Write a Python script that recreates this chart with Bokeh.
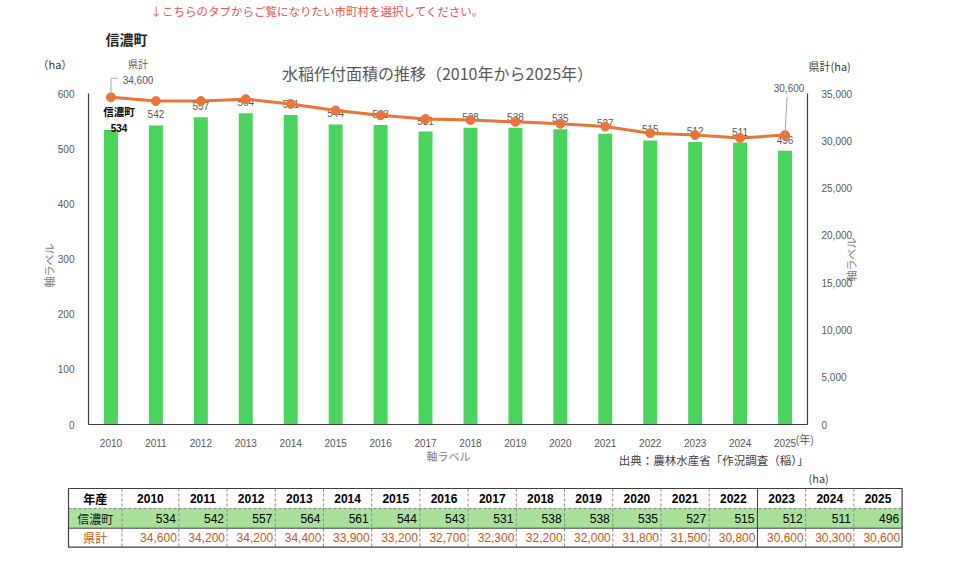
import math
from bokeh.plotting import figure
from bokeh.models import (Range1d, LinearAxis, FixedTicker, NumeralTickFormatter, Label)
from bokeh.embed import file_html
from bokeh.resources import INLINE
from bokeh.core.properties import value

# ---------------- data ----------------
years = list(range(2010, 2026))
year_labels = [str(y) for y in years]
town = [534, 542, 557, 564, 561, 544, 543, 531, 538, 538, 535, 527, 515, 512, 511, 496]
pref = [34600, 34200, 34200, 34400, 33900, 33200, 32700, 32300, 32200, 32000,
        31800, 31500, 30800, 30600, 30300, 30600]
left_ticks = [0, 100, 200, 300, 400, 500, 600]
right_ticks = [0, 5000, 10000, 15000, 20000, 25000, 30000, 35000]
town_name = "信濃町"
pref_name = "県計"

# ---------------- style ----------------
JP = "Noto Sans CJK JP"
NUM = "Liberation Sans"
BAR = "#4BD45D"
LINE = "#E8763A"
GRAY = "#595959"

W, H = 960, 568
FL, FR, FT, FB = 88, 807, 93, 424      # chart area in canvas pixels
X0, X1 = years[0] - 0.5, years[-1] + 0.5
Y1L, Y1R = left_ticks[-1], right_ticks[-1]

xs = (X1 - X0) / (FR - FL)             # data units per pixel, x
ysl = Y1L / (FB - FT)                  # data units per pixel, left y
ysr = Y1R / (FB - FT)                  # data units per pixel, right y

p = figure(width=W, height=H,
           x_range=Range1d(X0 - FL * xs, X1 + (W - FR) * xs),
           y_range=Range1d(-(H - FB) * ysl, Y1L + FT * ysl),
           output_backend="svg", toolbar_location=None, min_border=0,
           x_axis_location=None, y_axis_location=None)
p.extra_y_ranges = {"pref": Range1d(-(H - FB) * ysr, Y1R + FT * ysr),
                    "py": Range1d(H, 0)}
p.extra_x_ranges = {"px": Range1d(0, W)}
p.xgrid.visible = False
p.ygrid.visible = False
p.outline_line_color = None
p.background_fill_color = "white"
p.border_fill_color = "white"

def style_axis(ax):
    ax.major_tick_line_color = None
    ax.minor_tick_line_color = None
    ax.axis_line_color = "#404040"
    ax.axis_line_width = 1.2
    ax.major_label_text_color = GRAY
    ax.major_label_text_font = NUM
    ax.major_label_text_font_size = "10px"
    ax.major_label_standoff = 8

lax = LinearAxis(ticker=FixedTicker(ticks=left_ticks), fixed_location=X0, bounds=(0, Y1L))
style_axis(lax)
p.add_layout(lax, "left")
rax = LinearAxis(y_range_name="pref", ticker=FixedTicker(ticks=right_ticks),
                 formatter=NumeralTickFormatter(format="0,0"), fixed_location=X1,
                 bounds=(0, Y1R))
style_axis(rax)
p.add_layout(rax, "right")
bax = LinearAxis(ticker=FixedTicker(ticks=years), fixed_location=0, bounds=(X0, X1),
                 major_label_overrides={y: s for y, s in zip(years, year_labels)})
style_axis(bax)
p.add_layout(bax, "below")

# bars
p.vbar(x=years, top=town, width=0.31, fill_color=BAR, line_color=None)

# bar labels
p.text(x=years[1:], y=town[1:], text=[str(v) for v in town[1:]],
       text_align="center", text_baseline="middle", y_offset=-11,
       text_font=value(NUM), text_font_size="10px", text_color=GRAY)
p.add_layout(Label(x=years[0], y=town[0], text=str(town[0]), x_offset=8, y_offset=2,
                   text_align="center", text_baseline="middle", text_font=NUM,
                   text_font_size="10px", text_font_style="bold", text_color="#000000"))
p.add_layout(Label(x=years[0], y=town[0], text=town_name, x_offset=8, y_offset=18,
                   text_align="center", text_baseline="middle", text_font=JP,
                   text_font_size="10.5px", text_font_style="bold", text_color="#000000"))

# line
p.line(years, pref, y_range_name="pref", line_color=LINE, line_width=3)
p.scatter(years, pref, y_range_name="pref", size=9, fill_color=LINE, line_color=LINE)

# pref labels with leader lines
p.line(x=[years[0], years[0], years[0] + 7 * xs],
       y=[pref[0] + 2 * ysr, pref[0] + 19 * ysr, pref[0] + 19 * ysr],
       y_range_name="pref", line_color="#A6A6A6", line_width=1)
p.line(x=[years[-1], years[-1] + 2 * xs], y=[pref[-1], pref[-1] + 38 * ysr],
       y_range_name="pref", line_color="#A6A6A6", line_width=1)
p.add_layout(Label(x=years[0], y=pref[0], text=pref_name, x_offset=27, y_offset=34,
                   y_range_name="pref", text_align="center", text_baseline="middle",
                   text_font=JP, text_font_size="10px", text_color=GRAY))
p.add_layout(Label(x=years[0], y=pref[0], text=f"{pref[0]:,}", x_offset=27, y_offset=17,
                   y_range_name="pref", text_align="center", text_baseline="middle",
                   text_font=NUM, text_font_size="10px", text_color=GRAY))
p.add_layout(Label(x=years[-1], y=pref[-1], text=f"{pref[-1]:,}", x_offset=4, y_offset=47,
                   y_range_name="pref", text_align="center", text_baseline="middle",
                   text_font=NUM, text_font_size="10px", text_color=GRAY))

# ---------------- free texts (pixel coordinates) ----------------
def ptext(cx, cy, s, size, color, font=JP, align="left", bold=False, angle=0.0):
    p.text(x=[cx], y=[cy], text=[s], x_range_name="px", y_range_name="py",
           text_align=align, text_baseline="middle", text_font=value(font),
           text_font_size=size, text_color=color,
           text_font_style="bold" if bold else "normal", angle=angle)

ptext(150, 10, "↓こちらのタブからご覧になりたい市町村を選択してください。", "11.5px", "#E5534B")
ptext(105, 38, town_name, "14px", "#262626", bold=True)
ptext(37, 63, "（ha）", "11px", "#404040")
ptext(437, 72, "水稲作付面積の推移（2010年から2025年）", "16px", GRAY, align="center")
ptext(808, 65, "県計(ha)", "11px", "#404040")
ptext(48, 265, "軸ラベル", "11px", "#7F7F7F", align="center", angle=math.pi / 2)
ptext(850, 259, "軸ラベル", "11px", "#7F7F7F", align="center", angle=math.pi / 2)
ptext(448, 455, "軸ラベル", "11px", "#7F7F7F", align="center")
ptext(795, 438, "(年)", "11px", GRAY)
ptext(808, 459, "出典：農林水産省「作況調査（稲）」", "11.5px", "#404040", align="right")
ptext(808, 477, "(ha)", "11px", "#404040")

# ---------------- table ----------------
x0 = 68
col_w = [53.5, 56.8] + [48.22] * (len(years) - 1)
edges = [x0]
for w in col_w:
    edges.append(edges[-1] + w)
rows = [488, 508, 527.7, 546.7]
centers = [(a + b) / 2 for a, b in zip(edges[:-1], edges[1:])]
mid = [(a + b) / 2 for a, b in zip(rows[:-1], rows[1:])]
R = dict(x_range_name="px", y_range_name="py")

p.quad(left=[edges[0]], right=[edges[-1]], top=[rows[1]], bottom=[rows[2]],
       fill_color="#A9E09A", line_color=None, **R)
p.segment(x0=edges[1:-1], x1=edges[1:-1], y0=[rows[0]] * (len(edges) - 2),
          y1=[rows[3]] * (len(edges) - 2), line_color="#8C8C8C", line_width=1,
          line_dash="3 2", **R)
solid_idx = 2 + years.index(2022)
p.segment(x0=[edges[solid_idx]], x1=[edges[solid_idx]], y0=[rows[0]], y1=[rows[3]],
          line_color="#404040", line_width=1, **R)
p.segment(x0=[edges[0]], x1=[edges[-1]], y0=[rows[1]], y1=[rows[1]],
          line_color="#8C8C8C", line_width=1, line_dash="3 2", **R)
p.segment(x0=[edges[0]], x1=[edges[-1]], y0=[rows[2]], y1=[rows[2]],
          line_color="#404040", line_width=1, **R)
p.quad(left=[edges[0]], right=[edges[-1]], top=[rows[0]], bottom=[rows[3]],
       fill_color=None, line_color="#404040", line_width=1.2, **R)

p.text(x=[centers[0]], y=[mid[0]], text=["年産"], text_align="center", text_baseline="middle",
       text_font=value(JP), text_font_size="12px", text_font_style="bold",
       text_color="#000000", **R)
p.text(x=centers[1:], y=[mid[0]] * len(years), text=year_labels, text_align="center",
       text_baseline="middle", text_font=value(NUM), text_font_size="12px",
       text_font_style="bold", text_color="#000000", **R)
p.text(x=[centers[0]], y=[mid[1]], text=[town_name], text_align="center",
       text_baseline="middle", text_font=value(JP), text_font_size="12px",
       text_color="#1A1A1A", **R)
p.text(x=[e - 3 for e in edges[2:]], y=[mid[1]] * len(years), text=[str(v) for v in town],
       text_align="right", text_baseline="middle", text_font=value(NUM),
       text_font_size="12px", text_color="#000000", **R)
PC = "#C55A11"
p.text(x=[centers[0]], y=[mid[2]], text=[pref_name], text_align="center",
       text_baseline="middle", text_font=value(JP), text_font_size="12px",
       text_color=PC, **R)
p.text(x=[e - 2 for e in edges[2:]], y=[mid[2]] * len(years), text=[f"{v:,}" for v in pref],
       text_align="right", text_baseline="middle", text_font=value(NUM),
       text_font_size="12px", text_color=PC, **R)

open("out.html", "w").write(file_html(p, INLINE))
